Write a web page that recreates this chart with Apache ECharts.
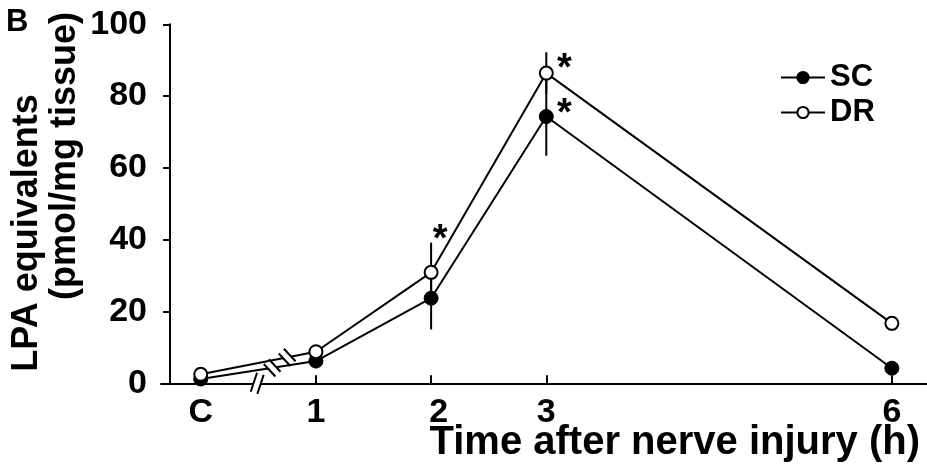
<!DOCTYPE html>
<html>
<head>
<meta charset="utf-8">
<script src="https://cdn.jsdelivr.net/npm/echarts@6/dist/echarts.min.js"></script>
<style>
html,body{margin:0;padding:0;background:#fff;}
#chart{width:927px;height:474px;}
</style>
</head>
<body>
<div id="chart"></div>
<script>
// ---- data ----
var xValues = [0, 1, 2, 3, 6];
var xLabels = ['C', '1', '2', '3', '6'];
var scMean = [1.2, 6.2, 23.7, 74.3, 4.2];
var scErr  = [0.8, 1.0, 8.7, 10.9, 1.5];
var drMean = [2.5, 8.8, 30.9, 86.4, 16.7];
var drErr  = [0.8, 1.0, 8.3, 5.8, 2.0];
var yTicks = [0, 20, 40, 60, 80, 100];
var seriesNames = ['SC', 'DR'];
var xTickValues = [1, 2, 3, 6];

var FONT = 'Liberation Sans, Arial, sans-serif';
var chart = echarts.init(document.getElementById('chart'));

function pts(arr){ return xValues.map(function(x,i){ return [x, arr[i]]; }); }
function errData(mean, err){ return xValues.map(function(x,i){ return [x, mean[i]-err[i], mean[i]+err[i]]; }); }

// break marks between C and 1 (on axis, and on each line)
function interp(arr, t){ return arr[0] + (arr[1]-arr[0]) * t; }
var breakData = [
  [0.49, 0, -0.32, 20],
  [0.62, interp(scMean, 0.62), 0.75, 17],
  [0.75, interp(drMean, 0.75), 0.75, 17]
];

function errRender(params, api){
  var x = api.value(0);
  var p1 = api.coord([x, api.value(1)]);
  var p2 = api.coord([x, api.value(2)]);
  return {type:'line', shape:{x1:p1[0], y1:p1[1], x2:p2[0], y2:p2[1]}, style:{stroke:'#000', lineWidth:2}};
}
function breakRender(params, api){
  var c = api.coord([api.value(0), api.value(1)]);
  var rot = api.value(2), len = api.value(3);
  var h = len/2, g = 3.5;
  return {
    type:'group', x:c[0], y:c[1], rotation:rot,
    children:[
      {type:'rect', shape:{x:-g, y:-h+2, width:2*g, height:len-4}, style:{fill:'#fff'}},
      {type:'line', shape:{x1:-g, y1:-h, x2:-g, y2:h}, style:{stroke:'#000', lineWidth:2}},
      {type:'line', shape:{x1:g, y1:-h, x2:g, y2:h}, style:{stroke:'#000', lineWidth:2}}
    ]
  };
}

var starLabel = {show:true, position:'inside', formatter:'*', fontSize:38, fontWeight:'bold', color:'#000', fontFamily:FONT};
var tickFont = {fontSize:34, fontWeight:'bold', color:'#000', fontFamily:FONT};

var option = {
  backgroundColor:'#fff',
  animation:false,
  textStyle:{fontFamily:FONT},
  grid:{left:161, right:0, top:24.3, bottom:90.7, containLabel:false},
  legend:{
    orient:'vertical', left:775, top:57, itemWidth:44, itemHeight:14, itemGap:4,
    data: seriesNames,
    textStyle:{fontSize:31, fontWeight:'bold', color:'#000', fontFamily:FONT, lineHeight:31}
  },
  xAxis:{
    type:'value', min:-0.345, max:6.305,
    axisLine:{show:true, onZero:true, lineStyle:{color:'#000', width:2}},
    axisTick:{show:true, inside:true, length:8, customValues:xTickValues, lineStyle:{color:'#000', width:2}},
    axisLabel:{
      customValues:xValues,
      formatter:function(v){
        var i = xValues.indexOf(v);
        if (i < 0) return '';
        return xLabels[i] === '2' ? '{s|' + xLabels[i] + '}' : xLabels[i];
      },
      rich:{s:{fontSize:34, fontWeight:'bold', color:'#000', fontFamily:FONT, padding:[0,0,0,15]}},
      fontSize:34, fontWeight:'bold', color:'#000', fontFamily:FONT, margin:12
    },
    splitLine:{show:false}
  },
  yAxis:{
    type:'value', min:0, max:100, interval:20, offset:-9,
    axisLine:{show:true, onZero:false, lineStyle:{color:'#000', width:2}},
    axisTick:{show:true, inside:false, length:7, lineStyle:{color:'#000', width:2}},
    axisLabel:{
      customValues:yTicks,
      fontSize:34, fontWeight:'bold', color:'#000', fontFamily:FONT, margin:23
    },
    splitLine:{show:false}
  },
  graphic:[
    {type:'text', left:6, top:7, style:{text:'B', font:'bold 31px ' + FONT, fill:'#000'}},
    {type:'text', x:27, y:233, rotation:Math.PI/2, style:{text:'LPA equivalents', font:'bold 36px ' + FONT, fill:'#000', textAlign:'center', textVerticalAlign:'middle'}},
    {type:'text', x:65, y:156, rotation:Math.PI/2, style:{text:'(pmol/mg tissue)', font:'bold 36px ' + FONT, fill:'#000', textAlign:'center', textVerticalAlign:'middle'}},
    {type:'text', x:920, y:443, style:{text:'Time after nerve injury (h)', font:'bold 40px ' + FONT, fill:'#000', textAlign:'right', textVerticalAlign:'middle'}}
  ],
  series:[
    {type:'custom', name:'scErr', renderItem:errRender, data:errData(scMean, scErr), z:1, silent:true},
    {type:'custom', name:'drErr', renderItem:errRender, data:errData(drMean, drErr), z:1, silent:true},
    {
      type:'line', name:'SC', data:pts(scMean), symbol:'circle', symbolSize:14, z:3,
      lineStyle:{color:'#000', width:2}, itemStyle:{color:'#000', borderColor:'#000', borderWidth:1},
      markPoint:{symbol:'circle', symbolSize:1, itemStyle:{color:'rgba(0,0,0,0)'}, label:starLabel,
        data:[{coord:[xValues[3], scMean[3]], label:{offset:[18,-2]}}]}
    },
    {
      type:'line', name:'DR', data:pts(drMean), symbol:'circle', symbolSize:13, z:4,
      lineStyle:{color:'#000', width:2}, itemStyle:{color:'#fff', borderColor:'#000', borderWidth:2},
      markPoint:{symbol:'circle', symbolSize:1, itemStyle:{color:'rgba(0,0,0,0)'}, label:starLabel,
        data:[
          {coord:[xValues[2], drMean[2]+drErr[2]], label:{offset:[9,-2]}},
          {coord:[xValues[3], drMean[3]], label:{offset:[18,-4]}}
        ]}
    },
    {type:'custom', name:'breaks', renderItem:breakRender, data:breakData, z:10, silent:true}
  ]
};
chart.setOption(option);
</script>
</body>
</html>
